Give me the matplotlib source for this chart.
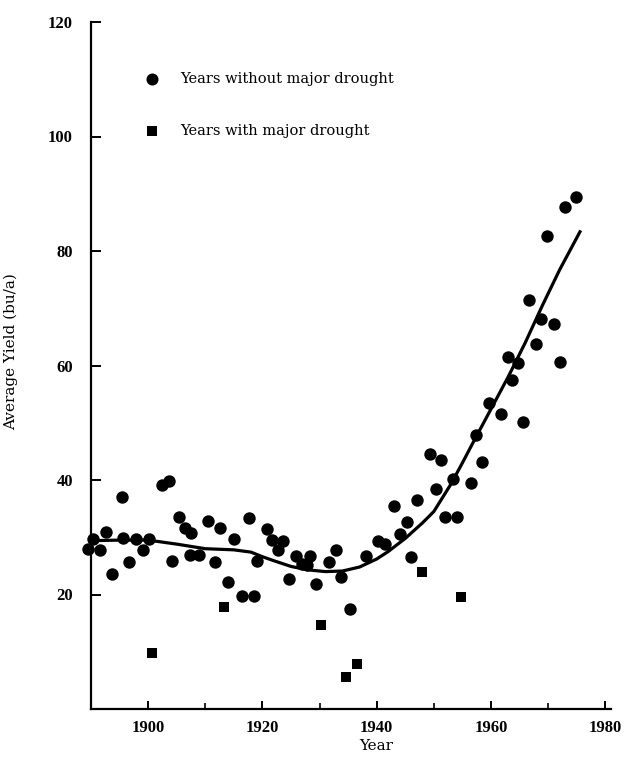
import matplotlib
matplotlib.use("Agg")
import matplotlib.pyplot as plt
from matplotlib.ticker import MultipleLocator

# --- data ---
normal_years = [1889.4, 1890.4, 1891.5, 1892.6, 1893.6, 1895.4, 1895.6, 1896.6, 1897.8, 1899.1,
                1900.1, 1902.4, 1903.6, 1904.2, 1905.4, 1906.5, 1907.5, 1907.4, 1908.9, 1910.5,
                1911.7, 1912.6, 1914.0, 1915.1, 1916.4, 1917.7, 1918.6, 1919.1, 1920.8, 1921.6,
                1922.7, 1923.6, 1924.6, 1925.8, 1927.0, 1927.8, 1928.4, 1929.4, 1931.6, 1932.8,
                1933.8, 1935.4, 1938.1, 1940.2, 1941.4, 1943.1, 1944.1, 1945.3, 1946.0, 1947.0,
                1949.4, 1950.3, 1951.3, 1951.9, 1953.4, 1954.1, 1956.5, 1957.3, 1958.4, 1959.6,
                1961.7, 1963.0, 1963.6, 1964.8, 1965.6, 1966.7, 1967.9, 1968.8, 1969.8, 1971.1,
                1972.0, 1973.0, 1974.8]
normal_yield = [27.9, 29.7, 27.7, 30.9, 23.6, 37.0, 29.8, 25.7, 29.7, 27.7,
                29.7, 39.1, 39.8, 25.9, 33.6, 31.7, 30.8, 26.9, 26.9, 32.9,
                25.6, 31.6, 22.2, 29.7, 19.7, 33.4, 19.7, 25.9, 31.5, 29.6,
                27.7, 29.3, 22.7, 26.8, 25.4, 25.1, 26.7, 21.9, 25.6, 27.7,
                23.0, 17.5, 26.8, 29.4, 28.9, 35.4, 30.6, 32.6, 26.5, 36.5,
                44.5, 38.4, 43.5, 33.5, 40.2, 33.6, 39.4, 47.8, 43.1, 53.4,
                51.6, 61.5, 57.4, 60.4, 50.2, 71.4, 63.8, 68.1, 82.7, 67.2,
                60.6, 87.6, 89.4]

drought_years = [1900.7, 1913.2, 1930.2, 1934.6, 1936.6, 1947.9, 1954.7]
drought_yield = [9.8, 17.9, 14.6, 5.6, 7.8, 23.9, 19.6]

trend_years = [1890, 1895, 1900, 1905, 1910, 1915, 1918, 1920, 1922, 1925, 1928, 1931,
               1934, 1937, 1940, 1942, 1945, 1948, 1950, 1953, 1955, 1957, 1960, 1963,
               1966, 1969, 1972, 1975.7]
trend_yield = [29.4, 29.5, 29.5, 28.8, 28.0, 27.8, 27.4, 26.6, 25.9, 24.9, 24.3, 24.0,
               24.1, 24.8, 26.2, 27.5, 29.8, 32.5, 34.5, 39.3, 43.0, 46.8, 52.4, 58.0,
               64.0, 70.5, 76.7, 83.6]

x_ticks = [1900, 1920, 1940, 1960, 1980]
x_ticklabels = ["1900", "1920", "1940", "1960", "1980"]
y_ticks = [20, 40, 60, 80, 100, 120]
y_ticklabels = ["20", "40", "60", "80", "100", "120"]

fig = plt.figure(figsize=(6.31, 7.57), dpi=100)
ax = fig.add_axes([91/631, 1-709/757, 520/631, 687/757])

ax.plot(trend_years, trend_yield, color="black", lw=2.3, solid_capstyle="butt", zorder=2)
ax.scatter(normal_years, normal_yield, s=80, marker="o", color="black", zorder=3, clip_on=False,
           linewidths=0)
ax.scatter(drought_years, drought_yield, s=50, marker="s", color="black", zorder=3, clip_on=False,
           linewidths=0)

ax.set_xlim(1890, 1981)
ax.set_ylim(0, 120)
for s in ["top", "right"]:
    ax.spines[s].set_visible(False)
for s in ["left", "bottom"]:
    ax.spines[s].set_linewidth(1.6)

tick_font = dict(fontfamily="Liberation Serif", fontweight="bold", fontsize=12)
ax.set_xticks(x_ticks, labels=x_ticklabels, **tick_font)
ax.xaxis.set_minor_locator(MultipleLocator(10))
ax.set_yticks(y_ticks, labels=y_ticklabels, **tick_font)
ax.tick_params(axis="x", which="major", direction="in", length=6, width=1.4, pad=8)
ax.tick_params(axis="x", which="minor", direction="in", length=4, width=1.2)
ax.tick_params(axis="y", which="major", direction="in", length=7, width=1.4, pad=13)

ax.set_ylabel("Average Yield (bu/a)", fontfamily="DejaVu Serif", fontsize=11)
ax.yaxis.set_label_coords((18-91)/520, 0.52)
ax.set_xlabel("Year", fontfamily="DejaVu Serif", fontsize=11)
ax.xaxis.set_label_coords((376-91)/520, (709-746)/687)
ax.xaxis.label.set_va("center")

# legend drawn as markers + text in axes coordinates
leg_x = (152-91)/520
ax.scatter([leg_x], [(709-79)/687], s=75, marker="o", color="black", transform=ax.transAxes,
           clip_on=False, linewidths=0)
ax.scatter([leg_x], [(709-131)/687], s=45, marker="s", color="black", transform=ax.transAxes,
           clip_on=False, linewidths=0)
ax.text((180-91)/520, (709-79)/687, "Years without major drought", transform=ax.transAxes,
        va="center", ha="left", fontfamily="DejaVu Serif", fontsize=10.5)
ax.text((180-91)/520, (709-131)/687, "Years with major drought", transform=ax.transAxes,
        va="center", ha="left", fontfamily="DejaVu Serif", fontsize=10.5)

fig.savefig("out.png", dpi=100)
